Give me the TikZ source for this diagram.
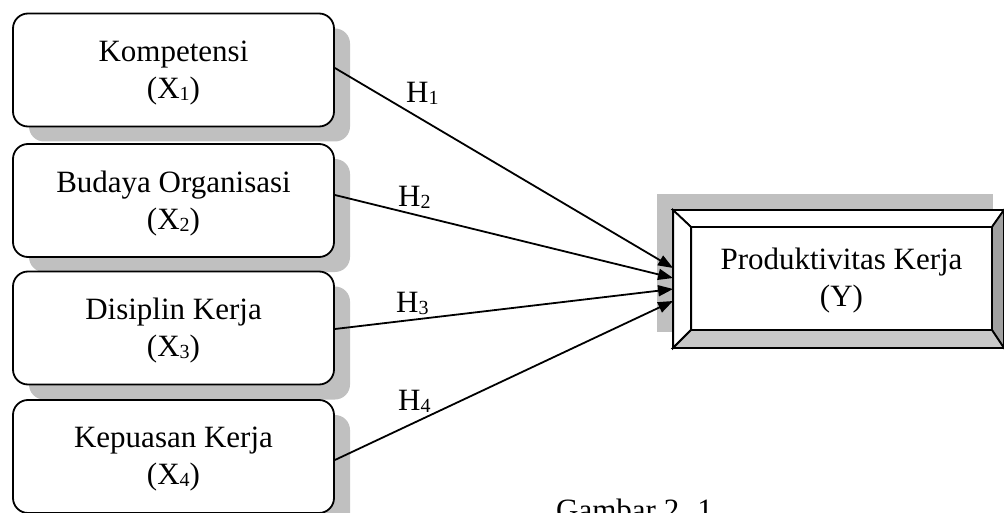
\documentclass[tikz,border=0pt]{standalone}
\usepackage{fontspec}
\setmainfont{Liberation Serif}
\usetikzlibrary{arrows.meta,calc,shadows}
\definecolor{shadowgray}{HTML}{C0C0C0}
\definecolor{bevelgray}{HTML}{A0A0A0}
\definecolor{bevellight}{HTML}{C8C8C8}
\newcommand{\lowidx}[1]{\raisebox{-2pt}{\fontsize{20}{20}\selectfont #1}}
\begin{document}
\begin{tikzpicture}[x=1pt,y=-1pt,
  varbox/.style={draw, line width=1.8pt, rounded corners=15pt, fill=white,
    minimum width=321pt, minimum height=113pt, inner sep=0pt,
    drop shadow={shadow xshift=16pt, shadow yshift=-15pt, fill=shadowgray, opacity=1}},
  lbl/.style={font=\fontsize{31}{37}\selectfont, align=center, inner sep=0pt},
  hyp/.style={font=\fontsize{31}{37}\selectfont, anchor=base west, inner sep=0pt},
  bevel/.style={draw, line width=1.8pt, line join=miter},
  conn/.style={line width=1.8pt, -{Triangle[length=15pt,width=11pt]}}]
\useasboundingbox (0,0) rectangle (1004,513);
\clip (0,0) rectangle (1004,513);

% left variable boxes
\node[varbox] (b1) at (173.5,70) {};
\node[lbl] (t1) at (173.5,73) {Kompetensi\\(X\lowidx{1})};
\node[varbox] (b2) at (173.5,200.5) {};
\node[lbl] (t2) at (173.5,203.5) {Budaya Organisasi\\(X\lowidx{2})};
\node[varbox] (b3) at (173.5,328) {};
\node[lbl] (t3) at (173.5,331) {Disiplin Kerja\\(X\lowidx{3})};
\node[varbox] (b4) at (173.5,456.5) {};
\node[lbl] (t4) at (173.5,459.5) {Kepuasan Kerja\\(X\lowidx{4})};

% right dependent box
\fill[shadowgray] (657,194) rectangle (993,332);
\node[draw, line width=1.8pt, fill=white, minimum width=329pt, minimum height=136pt, inner sep=0pt] (Y) at (838.5,279) {};
\coordinate (i1) at ($(Y.north west)+(18,17)$);
\coordinate (i2) at ($(Y.north east)+(-12,17)$);
\coordinate (i3) at ($(Y.south east)+(-12,-18)$);
\coordinate (i4) at ($(Y.south west)+(18,-18)$);
\draw[bevel, fill=white] (Y.north west) -- (Y.north east) -- (i2) -- (i1) -- cycle;
\draw[bevel, fill=white] (Y.north west) -- (i1) -- (i4) -- (Y.south west) -- cycle;
\draw[bevel, fill=bevelgray] (Y.north east) -- (Y.south east) -- (i3) -- (i2) -- cycle;
\draw[bevel, fill=bevellight] (Y.south west) -- (i4) -- (i3) -- (Y.south east) -- cycle;
\draw[bevel] (i1) rectangle (i3);
\node[lbl] (ty) at (841.5,281) {Produktivitas Kerja\\(Y)};

% arrow end points
\coordinate (e1) at ($(Y.west)+(0,-11)$);
\coordinate (e2) at ($(Y.west)+(0,-1)$);
\coordinate (e3) at ($(Y.west)+(0,10)$);
\coordinate (e4) at ($(Y.west)+(0,22)$);

\draw[conn] ([yshift=2pt]b1.east) -- (e1);
\draw[conn] ([yshift=5.5pt]b2.east) -- (e2);
\draw[conn] ([yshift=-1pt]b3.east) -- (e3);
\draw[conn] ([yshift=-3.5pt]b4.east) -- (e4);

% hypothesis labels
\node[hyp] (h1) at (406,103) {H\lowidx{1}};
\node[hyp] (h2) at (398,207) {H\lowidx{2}};
\node[hyp] (h3) at (396,312) {H\lowidx{3}};
\node[hyp] (h4) at (398,410) {H\lowidx{4}};

% caption (cut off at the bottom, as in the reference)
\node[hyp] (cap) at (556,520) {Gambar 2. 1};
\end{tikzpicture}
\end{document}
